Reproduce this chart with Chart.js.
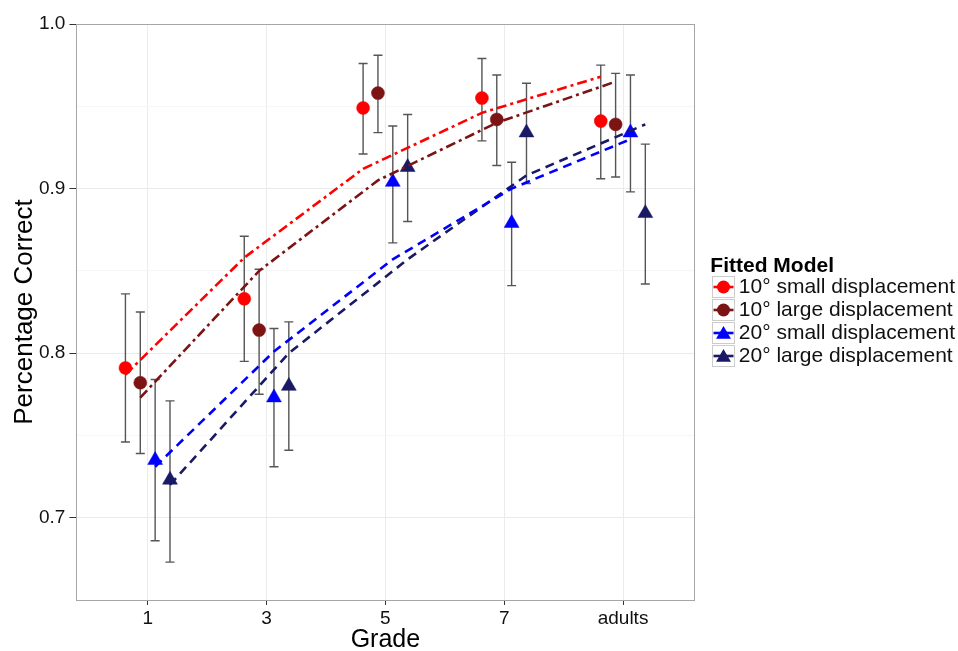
<!DOCTYPE html>
<html><head><meta charset="utf-8">
<script src="https://cdn.jsdelivr.net/npm/chart.js@4.4.1/dist/chart.umd.min.js"></script>
<style>html,body{margin:0;padding:0;background:#fff;}#wrap{width:958px;height:651px;}</style>
</head><body><div id="wrap"><canvas id="c" width="958" height="651"></canvas></div>
<script>
// ---------- data ----------
const categories = ['1', '3', '5', '7', 'adults'];
const seriesNames = ['10° small displacement', '10° large displacement', '20° small displacement', '20° large displacement'];
const seriesColors = ['#ff0000', '#7d1414', '#0000ff', '#191966'];
const seriesShapes = ['circle', 'circle', 'triangle', 'triangle'];
const dodge = [-0.1875, -0.0625, 0.0625, 0.1875];

const obs10Small = [0.791, 0.833, 0.949, 0.955, 0.941];
const lo10Small  = [0.746, 0.795, 0.921, 0.929, 0.906];
const hi10Small  = [0.836, 0.871, 0.976, 0.979, 0.975];

const obs10Large = [0.782, 0.814, 0.958, 0.942, 0.939];
const lo10Large  = [0.739, 0.775, 0.934, 0.914, 0.907];
const hi10Large  = [0.825, 0.851, 0.981, 0.969, 0.970];

const obs20Small = [0.735, 0.773, 0.904, 0.879, 0.934];
const lo20Small  = [0.686, 0.731, 0.867, 0.841, 0.898];
const hi20Small  = [0.784, 0.815, 0.938, 0.916, 0.969];

const obs20Large = [0.723, 0.780, 0.913, 0.934, 0.885];
const lo20Large  = [0.673, 0.741, 0.880, 0.903, 0.842];
const hi20Large  = [0.771, 0.819, 0.945, 0.964, 0.927];

const fit10Small = [0.787, 0.858, 0.912, 0.946, 0.968];
const fit10Large = [0.773, 0.850, 0.905, 0.940, 0.965];
const fit20Small = [0.731, 0.801, 0.857, 0.900, 0.930];
const fit20Large = [0.720, 0.800, 0.857, 0.908, 0.939];

const yTickValues = [0.7, 0.8, 0.9, 1.0];
const yTickLabels = ['0.7', '0.8', '0.9', '1.0'];
const yMinorValues = [0.75, 0.85, 0.95];

const obsAll = [obs10Small, obs10Large, obs20Small, obs20Large];
const loAll = [lo10Small, lo10Large, lo20Small, lo20Large];
const hiAll = [hi10Small, hi10Large, hi20Small, hi20Large];
const fitAll = [fit10Small, fit10Large, fit20Small, fit20Large];
const dashes = [[10, 4, 3, 4], [10, 4, 3, 4], [9, 6], [9, 6]];

// ---------- build ----------
const xOf = (s, i) => i + 1 + dodge[s];
const isMajor = v => yTickValues.some(t => Math.abs(t - v) < 1e-9);

const datasets = [];
for (let s = 0; s < 4; s++) {
  datasets.push({
    label: seriesNames[s],
    data: obsAll[s].map((v, i) => ({x: xOf(s, i), y: v})),
    showLine: false,
    pointStyle: seriesShapes[s],
    pointRadius: seriesShapes[s] === 'circle' ? 6.5 : 8.6,
    pointHoverRadius: seriesShapes[s] === 'circle' ? 6.5 : 8.6,
    pointBackgroundColor: seriesColors[s],
    pointBorderColor: seriesColors[s],
    pointBorderWidth: 0.5,
    borderColor: seriesColors[s],
    backgroundColor: seriesColors[s],
    order: 2
  });
}
for (let s = 0; s < 4; s++) {
  datasets.push({
    label: 'fit ' + seriesNames[s],
    data: fitAll[s].map((v, i) => ({x: xOf(s, i), y: v})),
    showLine: true,
    borderColor: seriesColors[s],
    borderWidth: 2.6,
    borderDash: dashes[s],
    pointRadius: 0,
    pointHoverRadius: 0,
    tension: 0,
    fill: false,
    order: 1
  });
}

function drawMarker(ctx, shape, x, y, r, color) {
  ctx.save();
  ctx.fillStyle = color;
  ctx.beginPath();
  if (shape === 'circle') {
    ctx.arc(x, y, r, 0, Math.PI * 2);
  } else {
    ctx.moveTo(x, y - r);
    ctx.lineTo(x + r * Math.sin(2 * Math.PI / 3), y - r * Math.cos(2 * Math.PI / 3));
    ctx.lineTo(x + r * Math.sin(4 * Math.PI / 3), y - r * Math.cos(4 * Math.PI / 3));
    ctx.closePath();
  }
  ctx.fill();
  ctx.restore();
}

const errorBars = {
  id: 'errorBars',
  beforeDatasetsDraw(chart) {
    const {ctx, scales: {x, y}} = chart;
    ctx.save();
    ctx.strokeStyle = '#555555';
    ctx.lineWidth = 1.4;
    for (let s = 0; s < 4; s++) {
      for (let i = 0; i < categories.length; i++) {
        const px = x.getPixelForValue(xOf(s, i));
        const pl = y.getPixelForValue(loAll[s][i]);
        const ph = y.getPixelForValue(hiAll[s][i]);
        ctx.beginPath();
        ctx.moveTo(px, pl); ctx.lineTo(px, ph);
        ctx.moveTo(px - 4.5, pl); ctx.lineTo(px + 4.5, pl);
        ctx.moveTo(px - 4.5, ph); ctx.lineTo(px + 4.5, ph);
        ctx.stroke();
      }
    }
    ctx.restore();
  }
};

const frameAndKeys = {
  id: 'frameAndKeys',
  afterDraw(chart) {
    const {ctx, chartArea: a} = chart;
    ctx.save();
    ctx.strokeStyle = '#a6a6a6';
    ctx.lineWidth = 1;
    ctx.strokeRect(Math.round(a.left) + 0.5, Math.round(a.top) + 0.5, Math.round(a.right - a.left), Math.round(a.bottom - a.top));
    const boxes = chart.legend.legendHitBoxes || [];
    boxes.forEach((b, i) => {
      const kx = Math.round(b.left) + 0.5, ky = Math.round(b.top) + 0.5, kw = 22, kh = 21;
      ctx.fillStyle = '#ffffff';
      ctx.fillRect(kx, ky, kw, kh);
      ctx.strokeStyle = '#cccccc';
      ctx.lineWidth = 1;
      ctx.setLineDash([]);
      ctx.strokeRect(kx, ky, kw, kh);
      const cy = ky + kh / 2, cx = kx + kw / 2;
      ctx.strokeStyle = seriesColors[i];
      ctx.lineWidth = 2.6;
      ctx.beginPath();
      ctx.moveTo(kx + 1, cy); ctx.lineTo(kx + kw - 1, cy);
      ctx.stroke();
      drawMarker(ctx, seriesShapes[i], cx, seriesShapes[i] === 'circle' ? cy : cy + 1.5, seriesShapes[i] === 'circle' ? 6.5 : 8.6, seriesColors[i]);
    });
    ctx.restore();
  }
};

Chart.defaults.font.family = '"Liberation Sans", Arial, Helvetica, sans-serif';

new Chart(document.getElementById('c'), {
  type: 'line',
  data: {datasets},
  plugins: [errorBars, frameAndKeys],
  options: {
    responsive: false,
    animation: false,
    devicePixelRatio: 1,
    layout: {padding: {top: 24, left: 14.2, right: -7, bottom: 2}},
    plugins: {
      tooltip: {enabled: false},
      legend: {
        position: 'right',
        align: 'center',
        fullSize: false,
        maxWidth: 300,
        title: {display: true, text: 'Fitted Model', position: 'start', color: '#000', font: {size: 21, weight: 'bold', lineHeight: 0.9}, padding: {top: 0, bottom: 0}},
        labels: {
          boxWidth: 16, boxHeight: 20, padding: 2, color: '#111', font: {size: 21},
          generateLabels: (chart) => seriesNames.map((n, i) => ({
            text: n, fillStyle: 'rgba(0,0,0,0)', strokeStyle: 'rgba(0,0,0,0)', lineWidth: 0,
            hidden: false, datasetIndex: i, fontColor: '#111'
          }))
        },
        onClick: () => {}
      }
    },
    scales: {
      x: {
        type: 'linear', min: 0.4, max: 5.6,
        afterBuildTicks: (s) => { s.ticks = categories.map((c, i) => ({value: i + 1})); },
        ticks: {callback: (v) => categories[Math.round(v) - 1], autoSkip: false, maxRotation: 0, color: '#111', font: {size: 19, lineHeight: 1}, padding: 4},
        grid: {color: '#ebebeb', tickColor: '#333333', tickLength: 5, lineWidth: 1},
        border: {display: false},
        title: {display: true, text: 'Grade', color: '#000', font: {size: 25, lineHeight: 0.68}, padding: {top: 0, bottom: 0}}
      },
      y: {
        type: 'linear', min: 0.65, max: 1.0,
        afterBuildTicks: (s) => {
          const vals = yTickValues.concat(yMinorValues).sort((a, b) => a - b);
          s.ticks = vals.map(v => ({value: v}));
        },
        ticks: {
          callback: (v) => { const k = yTickValues.findIndex(t => Math.abs(t - v) < 1e-9); return k >= 0 ? yTickLabels[k] : ''; },
          color: '#111', font: {size: 19}, padding: 4, autoSkip: false
        },
        grid: {
          color: (c) => isMajor(c.tick.value) ? '#ebebeb' : '#f6f6f6',
          tickColor: (c) => isMajor(c.tick.value) ? '#333333' : 'rgba(0,0,0,0)',
          tickLength: 7, lineWidth: 1
        },
        border: {display: false},
        title: {display: true, text: 'Percentage Correct', color: '#000', font: {size: 26, lineHeight: 0.8}, padding: {top: 0, bottom: 0}}
      },
      gap: {
        type: 'linear', position: 'right', display: true,
        grid: {display: false, drawTicks: false}, ticks: {display: false}, border: {display: false},
        afterFit: (s) => { s.width = 16; }
      }
    }
  }
});
</script></body></html>
